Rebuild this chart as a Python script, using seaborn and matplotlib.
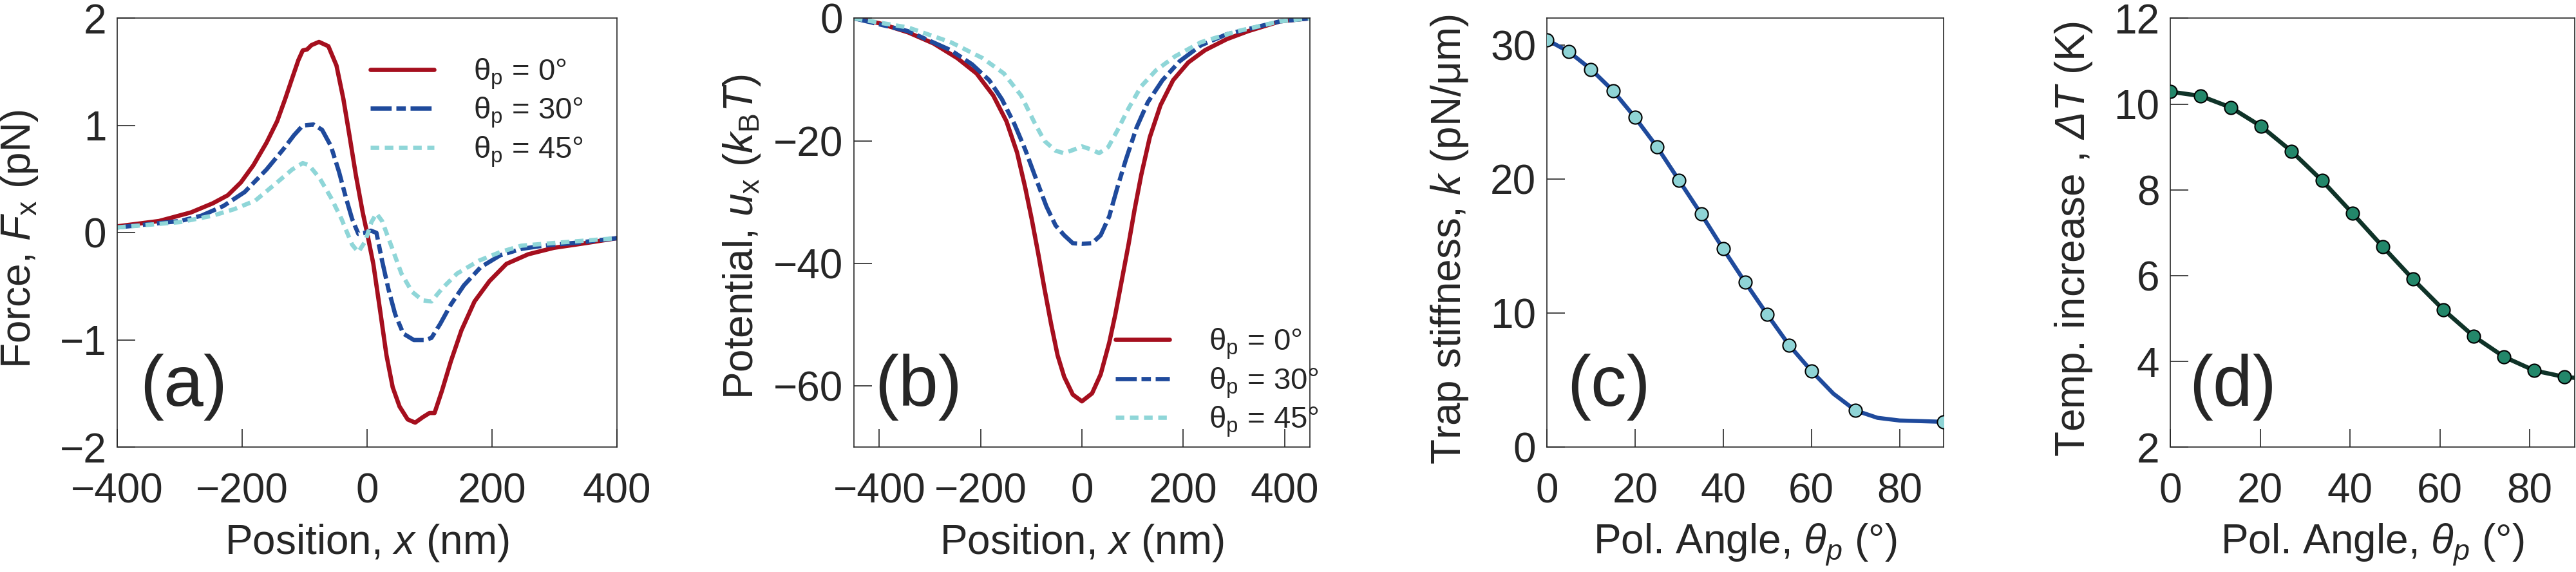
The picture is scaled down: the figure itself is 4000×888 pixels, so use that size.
# ==========================================
# OPTICAL TRAP: FORCE, POTENTIAL, STIFFNESS, HEATING
# ==========================================

import pandas as pd
import matplotlib
matplotlib.use("Agg")
import matplotlib.pyplot as plt
import seaborn as sns

# ==========================================
# DATA
# ==========================================

angle_labels = ["0", "30", "45"]

# (a) force vs position
x_a0 = [-400, -333, -282, -247, -223, -202, -182, -161, -144, -131, -120, -110,
        -103, -96, -89, -77, -62, -49, -38, -28, -18, -7, 0, 10, 21, 31, 41,
        52, 65, 77, 89, 100, 108, 120, 134, 151, 172, 196, 223, 258, 299, 351, 400]
F_a0 = [0.06, 0.11, 0.19, 0.275, 0.35, 0.47, 0.63, 0.84, 1.04, 1.25, 1.44, 1.61,
        1.70, 1.71, 1.75, 1.78, 1.74, 1.56, 1.25, 0.90, 0.54, 0.19, 0.0, -0.29,
        -0.73, -1.14, -1.44, -1.62, -1.74, -1.77, -1.72, -1.68, -1.68, -1.47,
        -1.20, -0.91, -0.64, -0.45, -0.29, -0.20, -0.14, -0.095, -0.05]

x_a30 = [-400, -299, -265, -230, -196, -161, -134, -117, -103, -86, -72, -58,
         -45, -34, -24, -14, -3, 6, 15, 24, 34, 45, 58, 75, 93, 103, 117, 134,
         155, 182, 213, 247, 282, 340, 400]
F_a30 = [0.05, 0.11, 0.16, 0.25, 0.38, 0.59, 0.78, 0.91, 1.00, 1.01, 0.96, 0.81,
         0.57, 0.33, 0.13, -0.01, 0.0, 0.02, 0.0, -0.26, -0.52, -0.76, -0.94,
         -1.00, -1.00, -0.98, -0.85, -0.67, -0.49, -0.32, -0.21, -0.15, -0.12,
         -0.09, -0.05]

x_a45 = [-400, -299, -247, -213, -179, -144, -120, -103, -93, -76, -58, -41,
         -24, -14, -3, 7, 15, 24, 38, 55, 72, 89, 103, 120, 144, 179, 213, 247,
         299, 400]
F_a45 = [0.05, 0.10, 0.16, 0.22, 0.30, 0.47, 0.59, 0.65, 0.63, 0.51, 0.33, 0.13,
         -0.11, -0.18, -0.08, 0.10, 0.18, 0.11, -0.11, -0.38, -0.55, -0.63, -0.64,
         -0.52, -0.38, -0.26, -0.18, -0.12, -0.095, -0.05]

# (b) potential vs position
x_b0 = [-450, -400, -343, -293, -246, -208, -175, -149, -128, -112, -99, -86,
        -74, -61, -48, -35, -18, 0, 20, 37, 54, 66, 79, 92, 104, 117, 134, 155,
        180, 210, 243, 286, 328, 391, 450]
u_b0 = [0, -0.8, -2.3, -4.1, -6.5, -9.0, -12.6, -16.8, -21.9, -27.6, -32.8, -38.5,
        -44.1, -49.8, -55.0, -58.5, -61.4, -62.5, -61.2, -58.1, -52.9, -48.3,
        -42.6, -36.9, -31.2, -25.6, -19.4, -14.2, -10.1, -7.2, -5.2, -3.4, -2.1,
        -0.5, 0]

x_b30 = [-450, -343, -259, -217, -183, -158, -133, -112, -91, -70, -52, -35, -18,
         0, 20, 37, 54, 70, 87, 108, 130, 159, 193, 235, 286, 391, 450]
u_b30 = [0, -2.1, -5.2, -7.5, -10.1, -13.2, -17.3, -21.4, -26.1, -30.7, -33.8,
         -35.4, -36.7, -36.8, -36.7, -35.4, -32.3, -27.6, -23.0, -17.8, -13.7,
         -10.1, -7.0, -4.4, -2.6, -0.5, 0]

x_b45 = [-450, -343, -259, -196, -154, -120, -95, -74, -52, -36, -18, 0, 18, 34,
         52, 70, 92, 117, 146, 184, 235, 307, 391, 450]
u_b45 = [0, -1.5, -3.9, -6.5, -9.0, -12.6, -16.8, -20.0, -21.6, -22.0, -21.5,
         -20.9, -21.4, -22.0, -21.0, -18.3, -14.7, -11.1, -8.5, -6.2, -3.9, -2.1,
         -0.5, 0]

# (c) trap stiffness vs polarisation angle
theta_c = [0, 5, 10, 15, 20, 25, 30, 35, 40, 45, 50, 55, 60, 70, 90]
k_c = [30.4, 29.5, 28.2, 26.6, 24.6, 22.4, 19.9, 17.4, 14.8, 12.3, 9.9, 7.6,
       5.7, 2.75, 1.9]
theta_c_fit = [0, 5, 10, 15, 20, 25, 30, 35, 40, 45, 50, 55, 60, 65, 70, 75,
               80, 85, 90]
k_c_fit = [30.4, 29.5, 28.2, 26.6, 24.6, 22.4, 19.9, 17.4, 14.8, 12.3, 9.9, 7.6,
           5.7, 4.0, 2.75, 2.2, 2.0, 1.95, 1.9]

# (d) temperature increase vs polarisation angle
theta_d = [0, 6.75, 13.5, 20.25, 27, 33.75, 40.5, 47.25, 54, 60.75, 67.5,
           74.25, 81, 87.75]
dT_d = [10.29, 10.19, 9.92, 9.48, 8.90, 8.22, 7.46, 6.68, 5.92, 5.21, 4.59,
        4.11, 3.79, 3.64]
theta_d_fit = theta_d + [90]
dT_d_fit = dT_d + [3.62]

# ==========================================
# LONG TABLES FOR SEABORN
# ==========================================

df_a = pd.concat([
    pd.DataFrame({"x": x_a0, "y": F_a0, "angle": "0"}),
    pd.DataFrame({"x": x_a30, "y": F_a30, "angle": "30"}),
    pd.DataFrame({"x": x_a45, "y": F_a45, "angle": "45"}),
])

df_b = pd.concat([
    pd.DataFrame({"x": x_b0, "y": u_b0, "angle": "0"}),
    pd.DataFrame({"x": x_b30, "y": u_b30, "angle": "30"}),
    pd.DataFrame({"x": x_b45, "y": u_b45, "angle": "45"}),
])

# ==========================================
# STYLE
# ==========================================

sns.set_style("ticks")

plt.rcParams["font.family"] = ["Liberation Sans", "DejaVu Sans"]
plt.rcParams["mathtext.fontset"] = "custom"
plt.rcParams["mathtext.rm"] = "Liberation Sans"
plt.rcParams["mathtext.it"] = "Liberation Sans:italic"
plt.rcParams["mathtext.sf"] = "Liberation Sans:italic"
plt.rcParams["axes.linewidth"] = 1.2

palette = {"0": "#A50F1E", "30": "#1F4A9C", "45": "#8FD6D8"}
dashes = {"0": "", "30": (4.9, 1.1, 2.2, 1.1), "45": (2.0, 1.3)}
legend_labels = [r"θ$_\mathrm{p}$ = " + a + "°" for a in angle_labels]

TICK = 46
LABEL = 46
PANEL = 80
LEG = 34

fig = plt.figure(figsize=(40, 8.88), dpi=100)

bottom = 0.218
height = 0.75

ax_a = fig.add_axes([0.0455, bottom, 0.194, height])
ax_b = fig.add_axes([0.3315, bottom, 0.177, height])
ax_c = fig.add_axes([0.6005, bottom, 0.154, height])
ax_d = fig.add_axes([0.8425, bottom, 0.157, height])


def style_axis(ax, ylab_x, ylab_y=0.485):
    ax.tick_params(
        direction="in",
        length=20,
        width=1.2,
        labelsize=TICK,
        top=False,
        right=False
    )
    ax.tick_params(axis="y", pad=12)
    ax.tick_params(axis="x", pad=28)
    ax.xaxis.set_label_coords(0.5, -0.175)
    ax.yaxis.set_label_coords(ylab_x, ylab_y)
    for s in ax.spines.values():
        s.set_visible(True)
        s.set_linewidth(1.2)


# ==========================================
# (a) FORCE
# ==========================================

sns.lineplot(
    data=df_a,
    x="x",
    y="y",
    hue="angle",
    style="angle",
    hue_order=angle_labels,
    style_order=angle_labels,
    palette=palette,
    dashes=dashes,
    linewidth=4.8,
    sort=False,
    estimator=None,
    legend=False,
    ax=ax_a
)

ax_a.set_xlim(-400, 400)
ax_a.set_ylim(-2, 2)
ax_a.set_xticks([-400, -200, 0, 200, 400])
ax_a.set_yticks([-2, -1, 0, 1, 2])
ax_a.set_xlabel(r"Position, $x$ (nm)", fontsize=LABEL)
ax_a.set_ylabel(r"Force, $F_\mathrm{x}$ (pN)", fontsize=LABEL)
style_axis(ax_a, -0.155)

ax_a.legend(
    ax_a.get_lines()[:3],
    legend_labels,
    loc="upper left",
    bbox_to_anchor=(0.506, 0.91),
    frameon=False,
    fontsize=LEG,
    handlelength=2.1,
    handletextpad=1.3,
    labelspacing=0.17,
    borderpad=0,
    borderaxespad=0
)

ax_a.text(0.045, 0.14, "(a)", transform=ax_a.transAxes,
          fontsize=PANEL, ha="left", va="center")

# ==========================================
# (b) POTENTIAL
# ==========================================

sns.lineplot(
    data=df_b,
    x="x",
    y="y",
    hue="angle",
    style="angle",
    hue_order=angle_labels,
    style_order=angle_labels,
    palette=palette,
    dashes=dashes,
    linewidth=4.8,
    sort=False,
    estimator=None,
    legend=False,
    ax=ax_b
)

ax_b.set_xlim(-450, 450)
ax_b.set_ylim(-70, 0)
ax_b.set_xticks([-400, -200, 0, 200, 400])
ax_b.set_yticks([-60, -40, -20, 0])
ax_b.set_xlabel(r"Position, $x$ (nm)", fontsize=LABEL)
ax_b.set_ylabel(r"Potential, $u_\mathrm{x}$ ($k_\mathrm{B}T$)", fontsize=LABEL)
style_axis(ax_b, -0.2, 0.49)

ax_b.legend(
    ax_b.get_lines()[:3],
    legend_labels,
    loc="upper left",
    bbox_to_anchor=(0.574, 0.28),
    frameon=False,
    fontsize=LEG,
    handlelength=1.77,
    handletextpad=1.3,
    labelspacing=0.17,
    borderpad=0,
    borderaxespad=0
)

ax_b.text(0.045, 0.14, "(b)", transform=ax_b.transAxes,
          fontsize=PANEL, ha="left", va="center")

# ==========================================
# (c) TRAP STIFFNESS
# ==========================================

sns.lineplot(
    x=theta_c_fit,
    y=k_c_fit,
    color="#1F4A9C",
    linewidth=4.6,
    sort=False,
    estimator=None,
    ax=ax_c
)

sns.scatterplot(
    x=theta_c,
    y=k_c,
    s=210,
    color="#8FD4D6",
    edgecolor="black",
    linewidth=1.5,
    zorder=3,
    ax=ax_c
)

ax_c.set_xlim(0, 90)
ax_c.set_ylim(0, 32)
ax_c.set_xticks([0, 20, 40, 60, 80])
ax_c.set_yticks([0, 10, 20, 30])
ax_c.set_xlabel(r"Pol. Angle, $\theta_p$ (°)", fontsize=LABEL)
ax_c.set_ylabel(r"Trap stiffness, $k$ (pN/μm)", fontsize=LABEL)
style_axis(ax_c, -0.193)

ax_c.text(0.05, 0.14, "(c)", transform=ax_c.transAxes,
          fontsize=PANEL, ha="left", va="center")

# ==========================================
# (d) TEMPERATURE INCREASE
# ==========================================

sns.lineplot(
    x=theta_d_fit,
    y=dT_d_fit,
    color="#0F3328",
    linewidth=4.8,
    sort=False,
    estimator=None,
    ax=ax_d
)

sns.scatterplot(
    x=theta_d,
    y=dT_d,
    s=210,
    color="#23876A",
    edgecolor="black",
    linewidth=1.5,
    zorder=3,
    ax=ax_d
)

ax_d.set_xlim(0, 90)
ax_d.set_ylim(2, 12)
ax_d.set_xticks([0, 20, 40, 60, 80])
ax_d.set_yticks([2, 4, 6, 8, 10, 12])
ax_d.set_xlabel(r"Pol. Angle, $\theta_p$ (°)", fontsize=LABEL)
ax_d.set_ylabel(r"Temp. increase , $\mathsf{\Delta}T$ (K)", fontsize=LABEL)
style_axis(ax_d, -0.188)

ax_d.text(0.046, 0.14, "(d)", transform=ax_d.transAxes,
          fontsize=PANEL, ha="left", va="center")

plt.savefig("out.png", dpi=100)
